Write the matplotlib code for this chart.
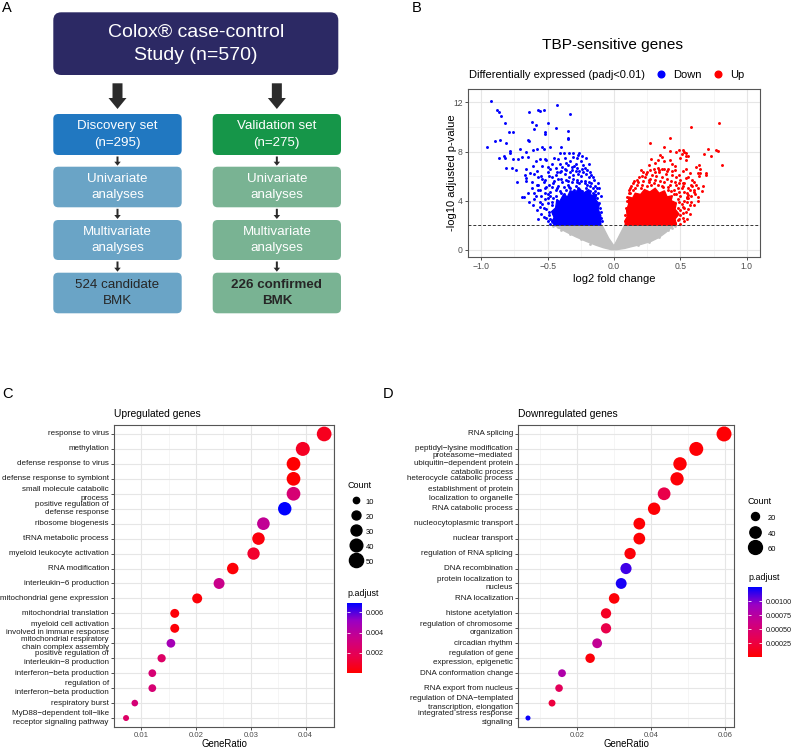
import numpy as np
import matplotlib.pyplot as plt
from matplotlib.patches import FancyBboxPatch, FancyArrow
from matplotlib.colors import LinearSegmentedColormap, Normalize
from matplotlib.cm import ScalarMappable
from matplotlib.lines import Line2D

plt.rcParams['font.family'] = ['Liberation Sans', 'DejaVu Sans']

W, H = 792, 748

# ---------------- data ----------------
# A: study design
top_text = 'Colox® case-control\nStudy (n=570)'
left_steps = ['Discovery set\n(n=295)', 'Univariate\nanalyses', 'Multivariate\nanalyses', '524 candidate\nBMK']
right_steps = ['Validation set\n(n=275)', 'Univariate\nanalyses', 'Multivariate\nanalyses', '226 confirmed\nBMK']

# B: volcano, scattered points
down_x = [-0.93, -0.88, -0.87, -0.85, -0.82, -0.64, -0.57, -0.56, -0.53, -0.43, -0.33, -0.62, -0.59, -0.50,
          -0.60, -0.44, -0.52, -0.52, -0.35, -0.79, -0.76, -0.35, -0.35, -0.65, -0.64, -0.90, -0.86, -0.81,
          -0.96, -0.78, -0.78, -0.71, -0.66, -0.61, -0.58, -0.54, -0.53, -0.48, -0.40, -0.41, -0.38, -0.34,
          -0.31, -0.26, -0.87, -0.83, -0.82, -0.76, -0.72, -0.69, -0.65, -0.59, -0.56, -0.52, -0.51, -0.45,
          -0.42, -0.37, -0.31, -0.28, -0.21, -0.81, -0.77, -0.74, -0.66, -0.61, -0.58, -0.54, -0.48, -0.44,
          -0.39, -0.37, -0.32, -0.28, -0.26, -0.22, -0.33, -0.29, -0.25, -0.23, -0.30, -0.35, -0.27, -0.24,
          -0.20, -0.19, -0.36, -0.41, -0.47, -0.50, -0.43, -0.40,
          -0.73, -0.67, -0.66, -0.62, -0.57, -0.58, -0.52, -0.68, -0.61, -0.69, -0.66, -0.63, -0.56, -0.59,
          -0.51, -0.60, -0.55, -0.50, -0.47, -0.44, -0.40, -0.37, -0.34, -0.31, -0.28, -0.25, -0.22, -0.19,
          -0.17, -0.53, -0.49, -0.45, -0.42, -0.39, -0.35, -0.32, -0.29, -0.26, -0.20, -0.16, -0.62, -0.57,
          -0.52, -0.48, -0.44, -0.40, -0.36, -0.30, -0.24, -0.18, -0.15, -0.55, -0.50, -0.46, -0.65, -0.56,
          -0.53, -0.50, -0.49, -0.47, -0.55, -0.58, -0.52, -0.64, -0.45, -0.48, -0.43, -0.14, -0.21, -0.27,
          -0.33, -0.12, -0.13, -0.11, -0.10, -0.48, -0.47, -0.60, -0.42, -0.35,
          -0.57, -0.54, -0.51, -0.49, -0.46, -0.43, -0.41, -0.38, -0.36, -0.33, -0.31, -0.29, -0.27, -0.25,
          -0.23, -0.21, -0.19, -0.17, -0.15, -0.13, -0.14, -0.16, -0.18, -0.20, -0.22, -0.26, -0.28, -0.30,
          -0.34, -0.38, -0.41, -0.44, -0.47, -0.50, -0.52, -0.54, -0.51, -0.49, -0.47, -0.50, -0.53, -0.56,
          -0.60, -0.57, -0.48, -0.46, -0.44, -0.36, -0.32, -0.24, -0.18, -0.16, -0.12, -0.11, -0.10, -0.09,
          -0.095, -0.105]
down_y = [12.14, 11.37, 11.24, 10.91, 10.29, 11.24, 11.37, 11.27, 11.40, 11.78, 11.05, 10.42, 10.15, 10.31,
          9.82, 9.90, 9.61, 9.47, 9.69, 9.58, 9.63, 9.14, 9.01, 8.95, 8.87, 8.87, 8.95, 8.71,
          8.38, 8.05, 7.92, 8.24, 7.97, 8.11, 8.24, 8.33, 8.20, 8.38, 8.38, 7.92, 7.92, 7.92,
          7.86, 7.92, 7.46, 7.65, 7.51, 7.43, 7.43, 7.59, 7.59, 7.24, 7.43, 7.43, 7.29, 7.51,
          7.43, 7.46, 7.56, 7.51, 7.48, 6.69, 6.69, 6.50, 6.61, 6.83, 6.42, 6.83, 6.61, 6.69,
          6.78, 6.56, 6.48, 6.69, 6.42, 6.69, 7.2, 7.0, 7.2, 6.9, 6.8, 6.9, 7.7, 7.6,
          6.5, 7.0, 7.1, 7.0, 7.0, 6.7, 6.3, 6.4,
          5.55, 6.10, 5.82, 5.55, 5.96, 5.28, 5.69, 4.33, 3.65, 4.27, 5.58, 6.26, 4.9, 4.35,
          2.59, 6.2, 6.0, 6.3, 5.9, 6.1, 5.8, 6.2, 5.9, 6.1, 5.7, 6.0, 5.6, 5.9,
          5.4, 5.5, 5.3, 5.6, 5.2, 5.5, 5.3, 5.5, 5.2, 5.4, 5.3, 5.0, 5.0, 4.9,
          5.0, 4.7, 4.9, 4.6, 4.9, 4.9, 4.8, 4.8, 4.5, 4.4, 4.5, 4.2, 4.6, 3.9,
          3.4, 3.8, 3.1, 2.3, 2.9, 3.2, 4.1, 3.9, 2.6, 2.1, 2.1, 5.2, 6.2, 6.2,
          6.3, 4.6, 4.2, 3.8, 3.1, 4.4, 3.6, 4.6, 5.8, 5.6,
          5.3, 5.8, 5.1, 6.0, 5.4, 5.0, 6.3, 5.1, 5.7, 5.0, 5.8, 6.4, 5.0, 5.6,
          6.3, 5.0, 5.5, 6.1, 5.7, 5.0, 4.8, 4.6, 5.2, 4.7, 5.4, 4.7, 5.5, 4.6,
          5.1, 4.5, 4.8, 4.4, 5.1, 4.2, 4.6, 3.7, 3.3, 2.8, 3.9, 2.3, 2.7, 3.5,
          4.1, 2.5, 2.5, 3.0, 2.4, 6.5, 6.7, 6.6, 6.3, 5.9, 5.4, 5.0, 4.4, 2.3,
          2.6, 3.4]
up_x = [0.58, 0.79, 0.27, 0.42, 0.38, 0.35, 0.36, 0.42, 0.47, 0.49, 0.52, 0.53, 0.54, 0.51, 0.54, 0.56,
        0.50, 0.54, 0.71, 0.68, 0.77, 0.78, 0.81, 0.42, 0.38, 0.44, 0.64, 0.62, 0.65, 0.22, 0.25, 0.30,
        0.33, 0.34, 0.38, 0.40, 0.44, 0.46, 0.52, 0.54, 0.57, 0.63,
        0.69, 0.64, 0.58, 0.63, 0.67, 0.60, 0.55, 0.57, 0.53, 0.50, 0.48, 0.55, 0.60, 0.54, 0.52, 0.63,
        0.56, 0.60, 0.65, 0.69, 0.73, 0.47, 0.49,
        0.14, 0.17, 0.20, 0.22, 0.25, 0.27, 0.30, 0.32, 0.35, 0.37, 0.40, 0.42, 0.44, 0.46, 0.48, 0.50,
        0.52, 0.19, 0.24, 0.29, 0.34, 0.39, 0.15, 0.12, 0.43, 0.47, 0.50, 0.53, 0.56, 0.58, 0.49, 0.52,
        0.55, 0.54, 0.46, 0.48, 0.50, 0.52, 0.10, 0.11, 0.26, 0.31, 0.28, 0.33,
        0.13, 0.16, 0.18, 0.21, 0.23, 0.26, 0.28, 0.31, 0.33, 0.36, 0.38, 0.41, 0.43, 0.45, 0.47, 0.49,
        0.51, 0.53, 0.55, 0.57, 0.59, 0.61, 0.56, 0.53, 0.51, 0.50, 0.52, 0.49, 0.53, 0.56, 0.58, 0.48,
        0.45, 0.41, 0.36, 0.26, 0.21, 0.17, 0.14, 0.12, 0.11, 0.095, 0.09, 0.085, 0.08, 0.20, 0.27, 0.31,
        0.36, 0.41, 0.46, 0.49, 0.56, 0.59, 0.62, 0.66, 0.63, 0.60, 0.57, 0.55]
up_y = [10.01, 10.29, 8.73, 9.09, 8.41, 7.70, 7.56, 8.05, 8.0, 8.11, 8.11, 8.0, 7.89, 7.84, 7.65, 7.65,
        7.51, 7.30, 8.19, 7.84, 8.11, 8.05, 6.91, 7.30, 7.19, 7.02, 6.91, 6.75, 6.56, 6.34, 6.34, 6.56,
        6.69, 6.48, 6.56, 6.42, 6.42, 6.48, 6.42, 6.56, 6.29, 6.29,
        6.23, 6.04, 5.28, 5.06, 5.23, 4.68, 4.33, 3.65, 3.37, 2.83, 2.42, 4.19, 5.55, 5.82, 5.41, 3.94,
        4.49, 4.9, 6.26, 6.12, 7.62, 5.9, 6.1,
        4.9, 5.3, 5.0, 5.6, 5.2, 5.8, 5.4, 6.0, 5.6, 5.1, 5.8, 5.3, 6.1, 5.5, 5.0, 5.7,
        5.2, 5.9, 6.2, 6.1, 6.3, 6.2, 5.6, 4.6, 4.8, 4.5, 4.4, 4.7, 5.0, 4.4, 3.9, 3.5,
        3.9, 3.1, 2.2, 3.4, 2.1, 2.6, 4.3, 4.9, 6.9, 7.1, 7.4, 7.3,
        5.2, 5.0, 5.5, 5.3, 5.9, 5.5, 5.3, 5.7, 5.3, 5.9, 5.5, 5.1, 5.6, 4.9, 5.3, 4.7,
        5.0, 5.4, 4.6, 4.9, 5.2, 4.5, 4.2, 4.0, 3.7, 3.2, 3.0, 2.5, 2.3, 3.3, 3.9, 4.1,
        4.5, 4.9, 5.2, 5.7, 6.0, 5.7, 5.4, 5.0, 4.6, 4.0, 3.4, 2.8, 2.3, 6.5, 6.5, 6.3,
        6.6, 6.6, 6.8, 5.4, 5.9, 5.7, 5.3, 4.8, 4.3, 3.6, 2.9, 2.5]
ns_pts_x = [-0.46, -0.40, -0.33, -0.25, -0.18, 0.18, 0.26, 0.34, 0.41, 0.46, -0.42, 0.44]
ns_pts_y = [1.95, 1.6, 1.25, 0.85, 0.5, 0.35, 0.65, 1.05, 1.6, 1.95, 1.85, 1.8]
# outlines of the saturated parts of the clouds
down_core_x = [-0.45, -0.10, -0.10, -0.12, -0.11, -0.14, -0.13, -0.17, -0.19, -0.23, -0.26, -0.29, -0.33,
               -0.35, -0.38, -0.41, -0.43, -0.44, -0.47, -0.45, -0.47]
down_core_y = [2.0, 2.0, 2.8, 3.3, 3.7, 4.1, 4.5, 4.4, 4.9, 4.6, 5.0, 4.7, 4.8,
               4.3, 4.5, 3.9, 4.1, 3.4, 3.1, 2.6, 2.3]
up_core_x = [0.085, 0.47, 0.46, 0.49, 0.46, 0.47, 0.43, 0.44, 0.40, 0.38, 0.34, 0.31, 0.27, 0.23, 0.20,
             0.16, 0.14, 0.11, 0.11, 0.095, 0.10, 0.085]
up_core_y = [2.0, 2.0, 2.5, 2.9, 3.3, 3.8, 4.0, 4.4, 4.3, 4.8, 4.6, 5.0, 4.7, 4.9, 4.5,
             4.6, 4.2, 4.3, 3.7, 3.2, 2.7, 2.4]
ns_x = [-0.45, -0.37, -0.29, -0.21, -0.14, -0.08, -0.02, 0.02, 0.08, 0.13, 0.20, 0.28, 0.34, 0.39, 0.45,
        0.08, 0.03, 0.0, -0.04, -0.09]
ns_y = [1.98, 1.5, 1.06, 0.68, 0.38, 0.16, 0.0, 0.0, 0.1, 0.24, 0.42, 0.68, 1.0, 1.4, 1.98,
        1.98, 0.92, 0.3, 0.93, 1.98]
padj_cut = 2.0

# C: upregulated GO terms
up_terms = ['response to virus', 'methylation', 'defense response to virus', 'defense response to symbiont',
            'small molecule catabolic\nprocess', 'positive regulation of\ndefense response', 'ribosome biogenesis',
            'tRNA metabolic process', 'myeloid leukocyte activation', 'RNA modification',
            'interleukin\u22126 production', 'mitochondrial gene expression', 'mitochondrial translation',
            'myeloid cell activation\ninvolved in immune response', 'mitochondrial respiratory\nchain complex assembly',
            'positive regulation of\ninterleukin\u22128 production', 'interferon\u2212beta production',
            'regulation of\ninterferon\u2212beta production', 'respiratory burst',
            'MyD88\u2212dependent toll\u2212like\nreceptor signaling pathway']
up_ratio = [0.0434, 0.0395, 0.0378, 0.0378, 0.0378, 0.0362, 0.0323, 0.0314, 0.0305, 0.0267,
            0.0242, 0.0202, 0.0161, 0.0161, 0.0154, 0.0137, 0.0120, 0.0120, 0.0088, 0.0072]
up_count = [54, 49, 47, 47, 47, 45, 40, 39, 38, 33, 30, 25, 20, 20, 19, 17, 15, 15, 11, 9]
up_padj = [0.0007, 0.0008, 0.0001, 0.0001, 0.0028, 0.0069, 0.0038, 0.0003, 0.0010, 0.0002,
           0.0035, 0.0002, 0.0002, 0.0002, 0.0048, 0.0024, 0.0028, 0.0028, 0.0029, 0.0024]

# D: downregulated GO terms
dn_terms = ['RNA splicing', 'peptidyl\u2212lysine modification',
            'proteasome\u2212mediated\nubiquitin\u2212dependent protein\ncatabolic process',
            'heterocycle catabolic process', 'establishment of protein\nlocalization to organelle',
            'RNA catabolic process', 'nucleocytoplasmic transport', 'nuclear transport',
            'regulation of RNA splicing', 'DNA recombination', 'protein localization to\nnucleus',
            'RNA localization', 'histone acetylation', 'regulation of chromosome\norganization',
            'circadian rhythm', 'regulation of gene\nexpression, epigenetic', 'DNA conformation change',
            'RNA export from nucleus', 'regulation of DNA\u2212templated\ntranscription, elongation',
            'integrated stress response\nsignaling']
dn_ratio = [0.0597, 0.0522, 0.0478, 0.0470, 0.0435, 0.0408, 0.0368, 0.0368, 0.0343, 0.0332,
            0.0319, 0.0300, 0.0278, 0.0278, 0.0254, 0.0235, 0.0159, 0.0151, 0.0132, 0.0067]
dn_count = [70, 61, 56, 55, 51, 48, 43, 43, 40, 39, 37, 35, 33, 33, 30, 28, 19, 18, 15, 8]
dn_padj = [0.00002, 0.00002, 0.00002, 0.00003, 0.00030, 0.00002, 0.00002, 0.00002, 0.00004, 0.00112,
           0.00120, 0.00003, 0.00015, 0.00030, 0.00068, 0.00004, 0.00080, 0.00037, 0.00025, 0.00123]

# ---------------- figure ----------------
fig = plt.figure(figsize=(W / 100, H / 100), dpi=100)


def px_axes(x0, y0, x1, y1):
    return fig.add_axes([x0 / W, 1 - y1 / H, (x1 - x0) / W, (y1 - y0) / H])


def fx(x):
    return x / W


def fy(y):
    return 1 - y / H


for lab, x, y in [('A', 2, 8), ('B', 412, 8), ('C', 2, 394), ('D', 383, 394)]:
    fig.text(fx(x), fy(y), lab, fontsize=10.5, ha='left', va='center')

# ---- A ----
ax_a = px_axes(0, 0, 400, 330)
ax_a.set_xlim(0, 400)
ax_a.set_ylim(330, 0)
ax_a.axis('off')

ax_a.add_patch(FancyBboxPatch((53.3, 12.3), 285, 62.7, boxstyle='round,pad=0,rounding_size=8',
                              fc='#2c2964', ec='none'))
ax_a.text(195.8, 43.7, top_text, color='white', fontsize=14, ha='center', va='center', linespacing=1.45)

rows = [(114, 155), (166.7, 207.3), (220, 260), (272.7, 313.3)]
cols = [(53.3, 181.7), (212.7, 341)]
col_fill = [['#2178c1', '#6aa4c6', '#6aa4c6', '#6aa4c6'],
            ['#169649', '#79b393', '#79b393', '#79b393']]
for ci, steps in enumerate([left_steps, right_steps]):
    x0, x1 = cols[ci]
    xc = (x0 + x1) / 2
    # big arrow from the study box
    ax_a.add_patch(FancyArrow(xc, 83.3, 0, 25.7, width=10, head_width=18, head_length=11,
                              length_includes_head=True, fc='#2b2b2b', ec='none'))
    for ri, txt in enumerate(steps):
        y0, y1 = rows[ri]
        ax_a.add_patch(FancyBboxPatch((x0, y0), x1 - x0, y1 - y0, boxstyle='round,pad=0,rounding_size=5',
                                      fc=col_fill[ci][ri], ec='none'))
        last = ri == len(steps) - 1
        ax_a.text(xc, (y0 + y1) / 2, txt, fontsize=9.6, ha='center', va='center', linespacing=1.52,
                  color='#262626' if last else 'white',
                  fontweight='bold' if (last and ci == 1) else 'normal')
        if ri > 0:
            ya = rows[ri - 1][1] + 1.5
            ax_a.add_patch(FancyArrow(xc, ya, 0, y0 - ya - 1, width=2, head_width=6.5, head_length=4,
                                      length_includes_head=True, fc='#2b2b2b', ec='none'))

# ---- B ----
tick_col = '#4d4d4d'
ax_b = px_axes(468, 89, 760, 257)
ax_b.fill(ns_x, ns_y, fc='#c0c0c0', ec='#c0c0c0', lw=1.0, zorder=2)
ax_b.scatter(ns_pts_x, ns_pts_y, s=4, c='#c0c0c0', lw=0, zorder=2)
ax_b.fill(down_core_x, down_core_y, fc='blue', ec='blue', lw=1.0, zorder=3)
ax_b.fill(up_core_x, up_core_y, fc='red', ec='red', lw=1.0, zorder=3)
ax_b.scatter(down_x, down_y, s=4.5, c='blue', lw=0, zorder=3)
ax_b.scatter(up_x, up_y, s=4.5, c='red', lw=0, zorder=3)
ax_b.axhline(padj_cut, ls=(0, (3, 2)), color='#333333', lw=0.7, zorder=4)
ax_b.set_xlim(-1.1, 1.1)
ax_b.set_ylim(-0.6, 13.1)
ax_b.set_xticks([-1, -0.5, 0, 0.5, 1])
ax_b.set_xticklabels(['\u22121.0', '\u22120.5', '0.0', '0.5', '1.0'])
ax_b.set_xticks([-0.75, -0.25, 0.25, 0.75], minor=True)
ax_b.set_yticks([0, 4, 8, 12])
ax_b.set_yticks([2, 6, 10], minor=True)
ax_b.set_xlabel('log2 fold change', fontsize=8, labelpad=2)
ax_b.set_ylabel('-log10 adjusted p-value', fontsize=8)
ax_b.yaxis.set_label_coords((457 - 468) / 292, 0.5)
fig.text(fx(613), fy(45), 'TBP-sensitive genes', fontsize=11.1, ha='center', va='center')
fig.text(fx(469), fy(75), 'Differentially expressed (padj<0.01)', fontsize=8, ha='left', va='center')
hb = [Line2D([], [], marker='o', ls='', color='blue', markersize=4.8, label='Down'),
      Line2D([], [], marker='o', ls='', color='red', markersize=4.8, label='Up')]
ax_b.legend(handles=hb, ncol=2, loc='center left', bbox_to_anchor=(fx(655), fy(75)),
            bbox_transform=fig.transFigure, frameon=False, fontsize=8, handlelength=1.0,
            handletextpad=0.6, columnspacing=1.0, borderpad=0, borderaxespad=0)

# ggplot-like red -> blue gradient
cmap = LinearSegmentedColormap.from_list('padj', ['#ff0000', '#e8004f', '#ca0089', '#9a00c3', '#0000ff'])


def style_axes(ax, tick_size):
    ax.set_axisbelow(True)
    ax.grid(which='major', color='#e6e6e6', lw=0.8)
    ax.grid(which='minor', color='#f2f2f2', lw=0.5)
    for sp in ax.spines.values():
        sp.set_color('#555555')
        sp.set_linewidth(0.8)
    ax.tick_params(which='major', length=2.2, width=0.6, color='#333333', pad=1.5,
                   labelsize=tick_size, labelcolor=tick_col)
    ax.tick_params(which='minor', length=0)


style_axes(ax_b, 6.2)


def dotplot(box, terms, ratio, count, padj, k, xlim, xt, xminor, xtl, vlim, cbox, cticks, ctl,
            counts_leg, leg_xy, hl, htp, ls, title):
    ax = px_axes(*box)
    norm = Normalize(*vlim)
    idx = np.arange(len(terms))
    ax.scatter(ratio, idx, s=[(k * np.sqrt(c) * 0.72) ** 2 for c in count], c=padj, cmap=cmap,
               norm=norm, lw=0, zorder=3)
    ax.set_ylim(len(terms) - 0.4, -0.6)
    ax.set_xlim(*xlim)
    ax.set_yticks(idx)
    ax.set_yticklabels(terms)
    ax.set_xticks(xt)
    ax.set_xticklabels(xtl)
    ax.set_xticks(xminor, minor=True)
    style_axes(ax, 5.6)
    ax.tick_params(axis='x', pad=1.2)
    ax.tick_params(axis='y', labelsize=5.8, labelcolor='#1a1a1a')
    for t in ax.get_yticklabels():
        t.set_va('center')
        t.set_multialignment('right')
        t.set_linespacing(1.3)
    ax.set_xlabel('GeneRatio', fontsize=6.9, labelpad=0)
    fig.text(fx(box[0]), fy(414), title, fontsize=7.4, ha='left', va='center')

    # size legend
    lx, ly = leg_xy
    fig.text(fx(lx), fy(ly), 'Count', fontsize=6.5, ha='left', va='center')
    handles = [Line2D([], [], marker='o', ls='', color='black', markersize=k * np.sqrt(c) * 0.72,
                      label=str(c)) for c in counts_leg]
    ax.legend(handles=handles, loc='upper left', bbox_to_anchor=(fx(lx - 1), fy(ly + 11)),
              bbox_transform=fig.transFigure, frameon=False, fontsize=5.4,
              handlelength=hl, handletextpad=htp, handleheight=1.9,
              labelspacing=ls, borderpad=0, borderaxespad=0)

    cax = px_axes(*cbox)
    cb = fig.colorbar(ScalarMappable(norm=norm, cmap=cmap), cax=cax, ticks=cticks)
    cb.set_ticklabels(ctl)
    cb.outline.set_visible(False)
    cax.tick_params(which='major', direction='in', left=True, right=True, color='white', length=2.5,
                    width=0.6, labelsize=5.2, labelcolor='#1a1a1a', pad=2.5)
    cax.tick_params(which='minor', length=0)
    fig.text(fx(cbox[0]), fy(cbox[1] - 10), 'p.adjust', fontsize=6.4, ha='left', va='center')
    return ax


dotplot((114, 425, 334, 727), up_terms, up_ratio, up_count, up_padj, 2.0,
        (0.0055, 0.0452), [0.01, 0.02, 0.03, 0.04], [0.005, 0.015, 0.025, 0.035, 0.045],
        ['0.01', '0.02', '0.03', '0.04'], (0.00003, 0.0069),
        (347, 603, 362, 673), [0.002, 0.004, 0.006], ['0.002', '0.004', '0.006'],
        [10, 20, 30, 40, 50], (347, 485), 2.6, 0.0, 0.52, 'Upregulated genes')

dotplot((518, 425, 734, 727), dn_terms, dn_ratio, dn_count, dn_padj, 1.79,
        (0.0040, 0.0624), [0.02, 0.04, 0.06], [0.01, 0.03, 0.05],
        ['0.02', '0.04', '0.06'], (0.000005, 0.00125),
        (748, 587, 762, 657), [0.00025, 0.0005, 0.00075, 0.001],
        ['0.00025', '0.00050', '0.00075', '0.00100'],
        [20, 40, 60], (748, 501), 2.1, 0.7, 0.6, 'Downregulated genes')

fig.savefig('out.png', dpi=100)
